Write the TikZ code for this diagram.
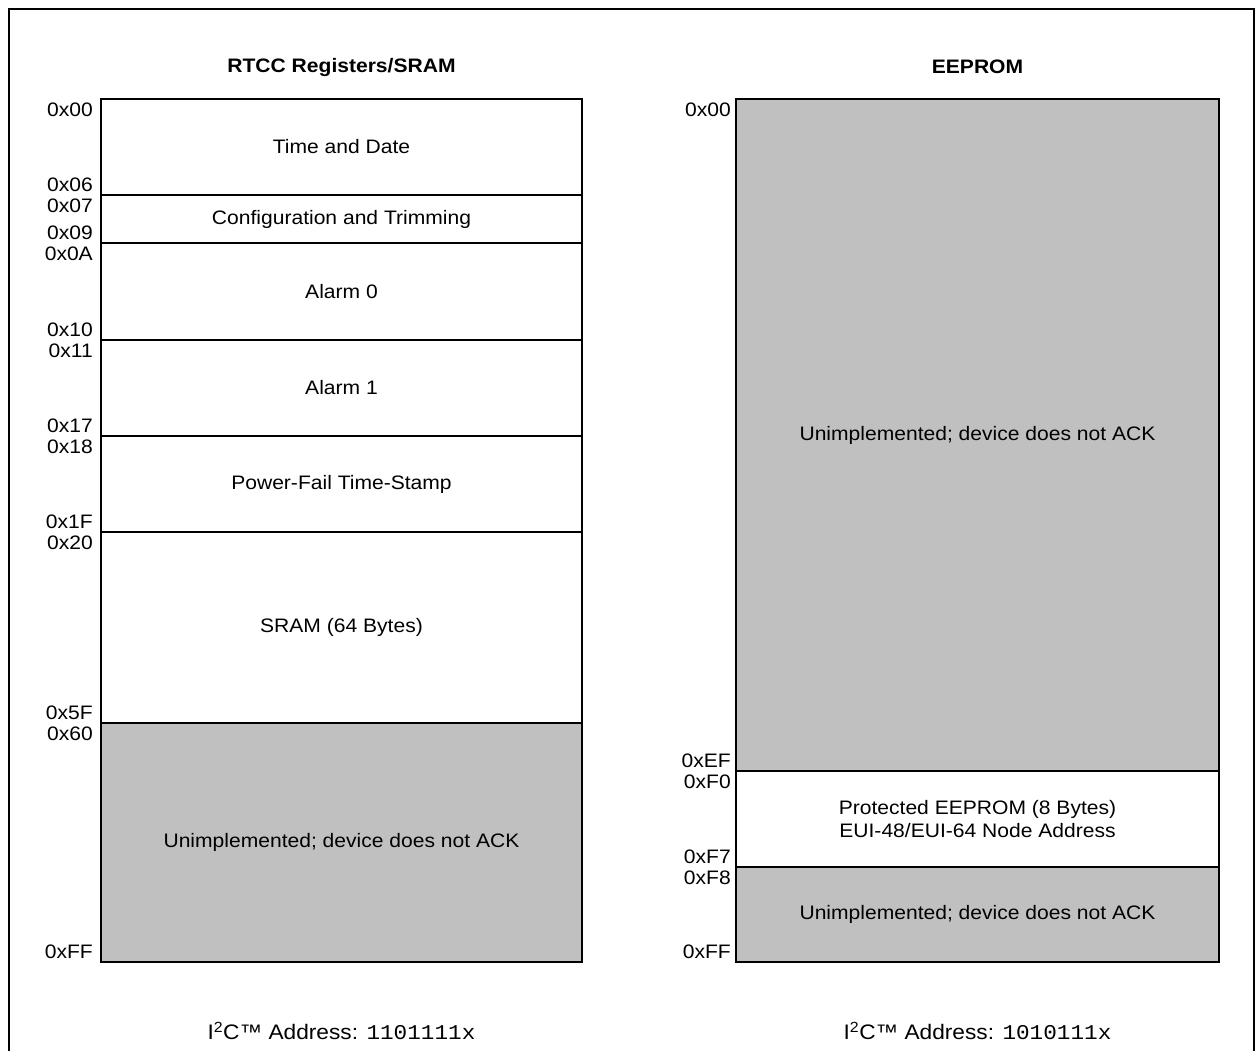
\documentclass[tikz,border=0pt]{standalone}
\usepackage{fontspec}
\setmainfont{Liberation Sans}[FakeStretch=1.08]
\setmonofont{Liberation Mono}[FakeStretch=1.08]
\usetikzlibrary{positioning}
\definecolor{unimpl}{RGB}{192,192,192}

\begin{document}
\begin{tikzpicture}[x=1pt,y=-1pt,
		font=\fontsize{19.5}{23.5}\selectfont,
		region/.style={draw,line width=1.8pt,minimum width=481pt,inner sep=0pt,outer sep=0pt,anchor=north west,align=center},
		noack/.style={region,fill=unimpl},
		startlbl/.style={anchor=north east,inner sep=0pt,xshift=-8pt,yshift=-4pt},
		endlbl/.style={anchor=south east,inner sep=0pt,xshift=-8pt,yshift=3pt},
		title/.style={font=\fontsize{19.5}{23.5}\selectfont\bfseries},
		i2c/.style={font=\fontsize{21}{25}\selectfont}]
		\useasboundingbox (0,0) rectangle (1258,1050);
		\draw[line width=2pt] (9,1070) -- (9,9) -- (1254,9) -- (1254,1070);
		
		% RTCC registers and SRAM
		\node[region,minimum height=96pt] (tad) at (101,99) {Time and Date};
		\node[region,minimum height=48pt,below=0pt of tad] (cfg) {Configuration and Trimming};
		\node[region,minimum height=97pt,below=0pt of cfg] (alm0) {Alarm 0};
		\node[region,minimum height=96pt,below=0pt of alm0] (alm1) {Alarm 1};
		\node[region,minimum height=96pt,below=0pt of alm1] (pwrf) {Power-Fail Time-Stamp};
		\node[region,minimum height=191pt,below=0pt of pwrf] (sram) {SRAM (64 Bytes)};
		\node[noack,minimum height=239pt,below=0pt of sram] (unl) {Unimplemented; device does not ACK};
		
		\node[startlbl] (l00) at (tad.north west) {0x00};
		\node[endlbl] (l06) at (tad.south west) {0x06};
		\node[startlbl] (l07) at (cfg.north west) {0x07};
		\node[endlbl] (l09) at (cfg.south west) {0x09};
		\node[startlbl] (l0a) at (alm0.north west) {0x0A};
		\node[endlbl] (l10) at (alm0.south west) {0x10};
		\node[startlbl] (l11) at (alm1.north west) {0x11};
		\node[endlbl] (l17) at (alm1.south west) {0x17};
		\node[startlbl] (l18) at (pwrf.north west) {0x18};
		\node[endlbl] (l1f) at (pwrf.south west) {0x1F};
		\node[startlbl] (l20) at (sram.north west) {0x20};
		\node[endlbl] (l5f) at (sram.south west) {0x5F};
		\node[startlbl] (l60) at (unl.north west) {0x60};
		\node[endlbl] (lff) at (unl.south west) {0xFF};
		
		\node[title] (rtcc) at ([yshift=32pt]tad.north) {RTCC Registers/SRAM};
		\node[i2c] (addrl) at ([yshift=-69pt]unl.south) {I\textsuperscript{2}C™ Address: \texttt{1101111x}};
		
		% EEPROM
		\node[noack,minimum width=483pt,minimum height=672pt] (ee) at (736,99) {Unimplemented; device does not ACK};
		\node[region,minimum width=483pt,minimum height=96pt,below=0pt of ee] (prot) {Protected EEPROM (8 Bytes)\\EUI-48/EUI-64 Node Address};
		\node[noack,minimum width=483pt,minimum height=95pt,below=0pt of prot] (unr) {Unimplemented; device does not ACK};
		
		\node[startlbl,xshift=3pt] (r00) at (ee.north west) {0x00};
		\node[endlbl,xshift=3pt] (ref) at (ee.south west) {0xEF};
		\node[startlbl,xshift=3pt] (rf0) at (prot.north west) {0xF0};
		\node[endlbl,xshift=3pt] (rf7) at (prot.south west) {0xF7};
		\node[startlbl,xshift=3pt] (rf8) at (unr.north west) {0xF8};
		\node[endlbl,xshift=3pt] (rff) at (unr.south west) {0xFF};
		
		\node[title] (eeprom) at ([yshift=32pt]ee.north) {EEPROM};
		\node[i2c] (addrr) at ([yshift=-69pt]unr.south) {I\textsuperscript{2}C™ Address: \texttt{1010111x}};
\end{tikzpicture}
\end{document}
